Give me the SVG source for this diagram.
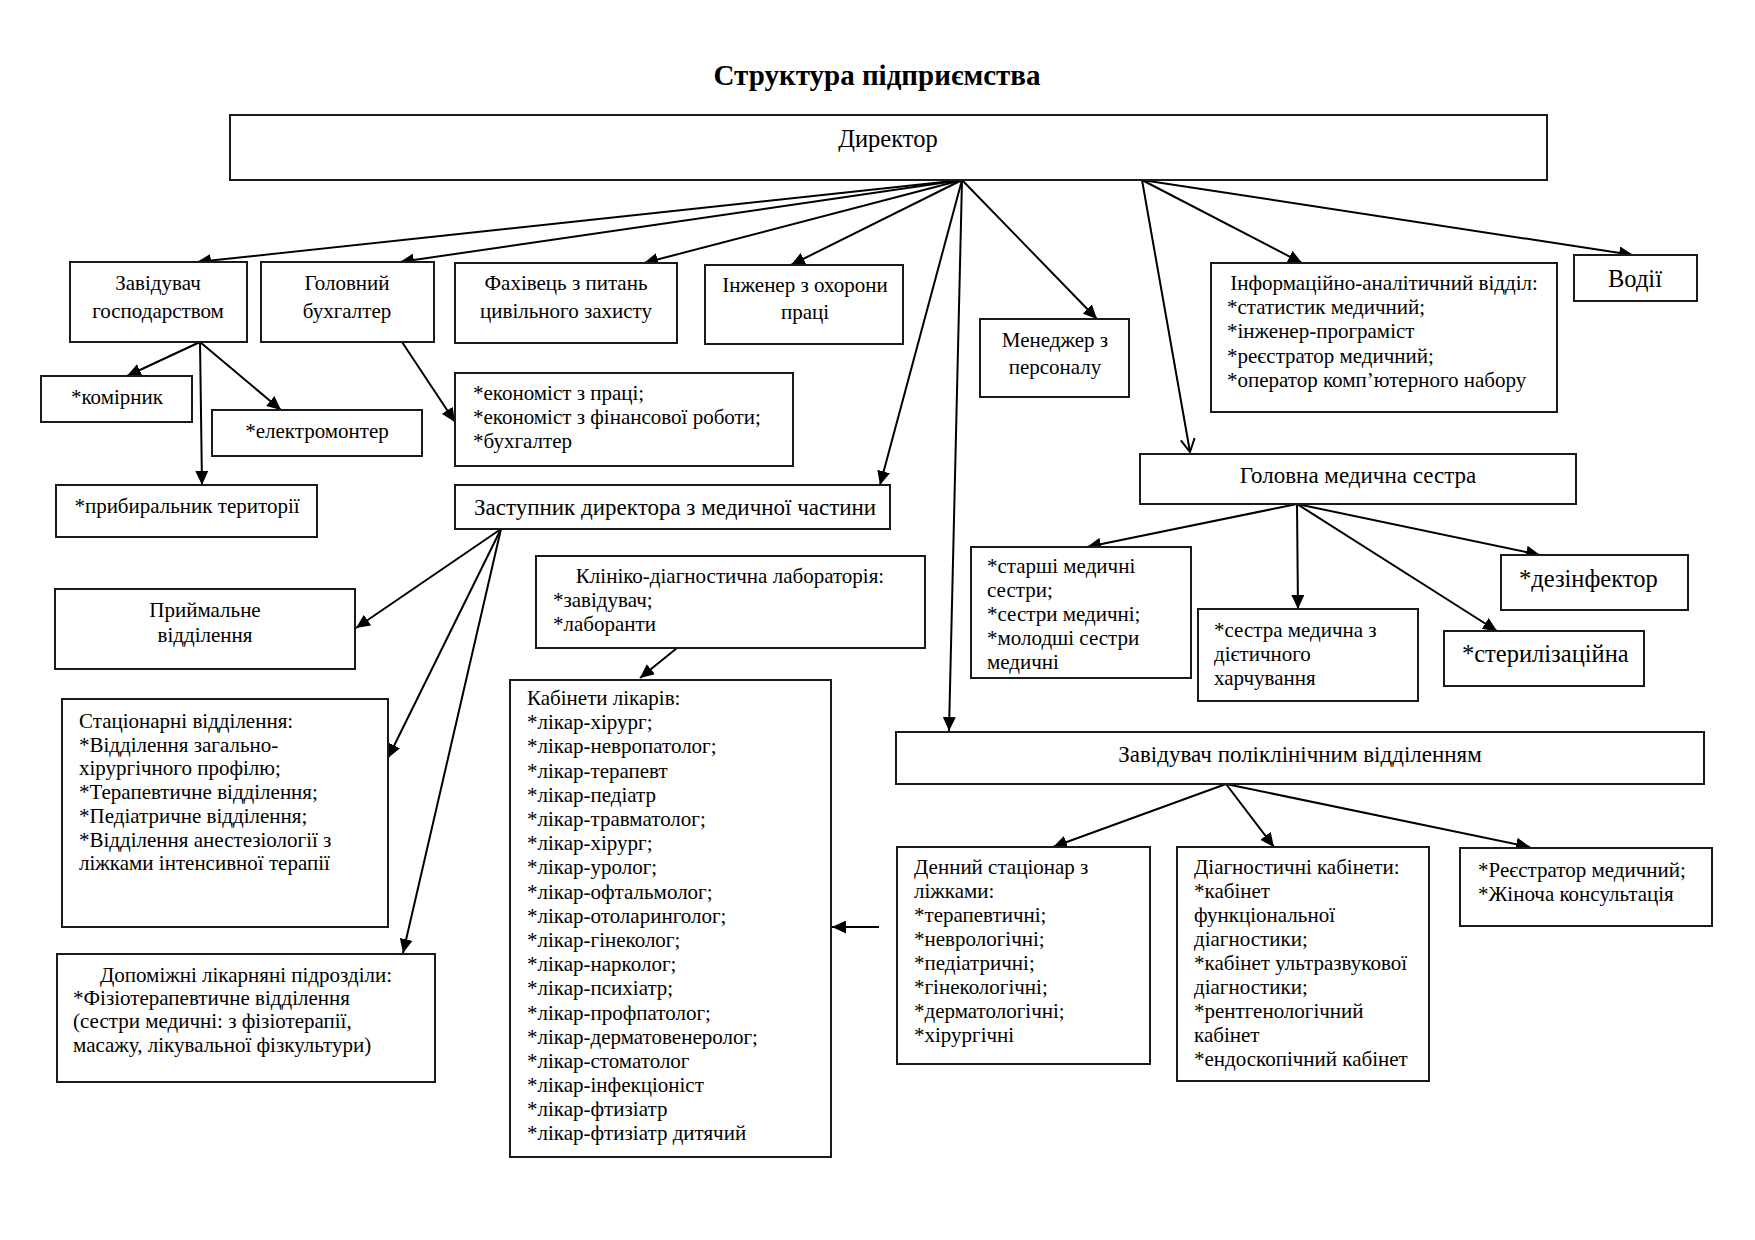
<svg xmlns="http://www.w3.org/2000/svg" width="1755" height="1240" viewBox="0 0 1755 1240">
<style>
  .box { fill: #ffffff; stroke: #1a1a1a; stroke-width: 2; }
  .t { font-family: "Liberation Serif", "Times New Roman", serif; font-size: 21px; fill: #000; }
  .c { text-anchor: middle; }
  .m { font-size: 23px; }
  .big { font-size: 24.5px; }
  .title { font-family: "Liberation Serif", "Times New Roman", serif; font-size: 29px; font-weight: bold; text-anchor: middle; fill: #000; }
  .ln { stroke: #000; stroke-width: 2; fill: none; marker-end: url(#ah); }
  .lo { stroke: #000; stroke-width: 2; fill: none; marker-end: url(#ao); }
</style>
<defs>
  <marker id="ah" markerUnits="userSpaceOnUse" markerWidth="15" markerHeight="13" refX="14" refY="6.5" orient="auto">
    <path d="M0,0 L14,6.5 L0,13 z" fill="#000"/>
  </marker>
  <marker id="ao" markerUnits="userSpaceOnUse" markerWidth="16" markerHeight="18" refX="14" refY="8" orient="auto">
    <path d="M1,1 L14,8 L1,15" fill="none" stroke="#000" stroke-width="2"/>
  </marker>
</defs>
<rect width="1755" height="1240" fill="#ffffff"/>
<text class="title" x="877" y="85">Структура підприємства</text>

<g id="connectors">
  <line class="ln" x1="962" y1="180" x2="197" y2="262"/>
  <line class="ln" x1="962" y1="180" x2="400" y2="262"/>
  <line class="ln" x1="962" y1="180" x2="644" y2="263"/>
  <line class="ln" x1="962" y1="180" x2="791" y2="265"/>
  <line class="ln" x1="962" y1="180" x2="1097" y2="319"/>
  <line class="ln" x1="962" y1="180" x2="880" y2="485"/>
  <line class="ln" x1="962" y1="180" x2="949" y2="731"/>
  <line class="ln" x1="1142" y1="180" x2="1302" y2="263"/>
  <line class="ln" x1="1142" y1="180" x2="1633" y2="255"/>
  <line class="lo" x1="1142" y1="180" x2="1190" y2="452"/>
  <line class="ln" x1="200" y1="342" x2="127" y2="376"/>
  <line class="ln" x1="200" y1="342" x2="202" y2="485"/>
  <line class="ln" x1="200" y1="342" x2="281" y2="410"/>
  <line class="ln" x1="402" y1="342" x2="455" y2="422"/>
  <line class="ln" x1="501" y1="529" x2="356" y2="628"/>
  <line class="ln" x1="501" y1="529" x2="388" y2="758"/>
  <line class="ln" x1="501" y1="529" x2="403" y2="953"/>
  <line class="ln" x1="677" y1="648" x2="640" y2="678"/>
  <line class="ln" x1="879" y1="927" x2="832" y2="927"/>
  <line class="ln" x1="1297" y1="504" x2="1087" y2="547"/>
  <line class="ln" x1="1297" y1="504" x2="1298" y2="609"/>
  <line class="ln" x1="1297" y1="504" x2="1497" y2="631"/>
  <line class="ln" x1="1297" y1="504" x2="1540" y2="555"/>
  <line class="ln" x1="1226" y1="784" x2="1053" y2="847"/>
  <line class="ln" x1="1226" y1="784" x2="1274" y2="847"/>
  <line class="ln" x1="1226" y1="784" x2="1530" y2="847"/>
</g>

<g id="director">
  <rect class="box" x="230" y="115" width="1317" height="65"/>
  <text class="t c big" x="888" y="147">Директор</text>
</g>
<g id="zav_gosp">
  <rect class="box" x="70" y="262" width="177" height="80"/>
  <text class="t c" x="158" y="290">Завідувач</text>
  <text class="t c" x="158" y="318">господарством</text>
</g>
<g id="gol_buh">
  <rect class="box" x="261" y="262" width="173" height="80"/>
  <text class="t c" x="347" y="290">Головний</text>
  <text class="t c" x="347" y="318">бухгалтер</text>
</g>
<g id="fakhivets">
  <rect class="box" x="455" y="263" width="222" height="80"/>
  <text class="t c" x="566" y="290">Фахівець з питань</text>
  <text class="t c" x="566" y="318">цивільного захисту</text>
</g>
<g id="inzhener">
  <rect class="box" x="705" y="265" width="198" height="79"/>
  <text class="t c" x="805" y="292">Інженер з охорони</text>
  <text class="t c" x="805" y="319">праці</text>
</g>
<g id="menedzher">
  <rect class="box" x="980" y="319" width="149" height="78"/>
  <text class="t c" x="1055" y="347">Менеджер з</text>
  <text class="t c" x="1055" y="374">персоналу</text>
</g>
<g id="info">
  <rect class="box" x="1211" y="263" width="346" height="149"/>
  <text class="t c" x="1384" y="290">Інформаційно-аналітичний відділ:</text>
  <text class="t" x="1227" y="314">*статистик медичний;</text>
  <text class="t" x="1227" y="338">*інженер-програміст</text>
  <text class="t" x="1227" y="363">*реєстратор медичний;</text>
  <text class="t" x="1227" y="387">*оператор комп’ютерного набору</text>
</g>
<g id="vodii">
  <rect class="box" x="1574" y="255" width="123" height="46"/>
  <text class="t c big" x="1635" y="287">Водії</text>
</g>
<g id="komirnyk">
  <rect class="box" x="41" y="376" width="151" height="46"/>
  <text class="t c" x="117" y="404">*комірник</text>
</g>
<g id="elektromonter">
  <rect class="box" x="212" y="410" width="210" height="46"/>
  <text class="t c" x="317" y="438">*електромонтер</text>
</g>
<g id="prybyralnyk">
  <rect class="box" x="56" y="485" width="261" height="52"/>
  <text class="t c" x="187" y="513">*прибиральник території</text>
</g>
<g id="ekonomist">
  <rect class="box" x="455" y="373" width="338" height="93"/>
  <text class="t" x="473" y="400">*економіст з праці;</text>
  <text class="t" x="473" y="424">*економіст з фінансової роботи;</text>
  <text class="t" x="473" y="448">*бухгалтер</text>
</g>
<g id="zastupnyk">
  <rect class="box" x="455" y="485" width="435" height="44"/>
  <text class="t m" x="474" y="515">Заступник директора з медичної частини</text>
</g>
<g id="golovna_sestra">
  <rect class="box" x="1140" y="454" width="436" height="50"/>
  <text class="t c m" x="1358" y="483">Головна медична сестра</text>
</g>
<g id="laboratoriya">
  <rect class="box" x="536" y="556" width="389" height="92"/>
  <text class="t c" x="730" y="583">Клініко-діагностична лабораторія:</text>
  <text class="t" x="553" y="607">*завідувач;</text>
  <text class="t" x="553" y="631">*лаборанти</text>
</g>
<g id="pryimalne">
  <rect class="box" x="55" y="589" width="300" height="80"/>
  <text class="t c" x="205" y="617">Приймальне</text>
  <text class="t c" x="205" y="642">відділення</text>
</g>
<g id="statsionarni">
  <rect class="box" x="62" y="699" width="326" height="228"/>
  <text class="t" x="79" y="728">Стаціонарні відділення:</text>
  <text class="t" x="79" y="752">*Відділення загально-</text>
  <text class="t" x="79" y="775">хірургічного профілю;</text>
  <text class="t" x="79" y="799">*Терапевтичне відділення;</text>
  <text class="t" x="79" y="823">*Педіатричне відділення;</text>
  <text class="t" x="79" y="847">*Відділення анестезіології з</text>
  <text class="t" x="79" y="870">ліжками інтенсивної терапії</text>
</g>
<g id="dopomizhni">
  <rect class="box" x="57" y="954" width="378" height="128"/>
  <text class="t c" x="246" y="982">Допоміжні лікарняні підрозділи:</text>
  <text class="t" x="73" y="1005">*Фізіотерапевтичне відділення</text>
  <text class="t" x="73" y="1028">(сестри медичні: з фізіотерапії,</text>
  <text class="t" x="73" y="1052">масажу, лікувальної фізкультури)</text>
</g>
<g id="kabinety">
  <rect class="box" x="510" y="680" width="321" height="477"/>
  <text class="t" x="527" y="705">Кабінети лікарів:</text>
  <text class="t" x="527" y="729">*лікар-хірург;</text>
  <text class="t" x="527" y="753">*лікар-невропатолог;</text>
  <text class="t" x="527" y="778">*лікар-терапевт</text>
  <text class="t" x="527" y="802">*лікар-педіатр</text>
  <text class="t" x="527" y="826">*лікар-травматолог;</text>
  <text class="t" x="527" y="850">*лікар-хірург;</text>
  <text class="t" x="527" y="874">*лікар-уролог;</text>
  <text class="t" x="527" y="899">*лікар-офтальмолог;</text>
  <text class="t" x="527" y="923">*лікар-отоларинголог;</text>
  <text class="t" x="527" y="947">*лікар-гінеколог;</text>
  <text class="t" x="527" y="971">*лікар-нарколог;</text>
  <text class="t" x="527" y="995">*лікар-психіатр;</text>
  <text class="t" x="527" y="1020">*лікар-профпатолог;</text>
  <text class="t" x="527" y="1044">*лікар-дерматовенеролог;</text>
  <text class="t" x="527" y="1068">*лікар-стоматолог</text>
  <text class="t" x="527" y="1092">*лікар-інфекціоніст</text>
  <text class="t" x="527" y="1116">*лікар-фтизіатр</text>
  <text class="t" x="527" y="1140">*лікар-фтизіатр дитячий</text>
</g>
<g id="starshi">
  <rect class="box" x="971" y="547" width="220" height="131"/>
  <text class="t" x="987" y="573">*старші медичні</text>
  <text class="t" x="987" y="597">сестри;</text>
  <text class="t" x="987" y="621">*сестри медичні;</text>
  <text class="t" x="987" y="645">*молодші сестри</text>
  <text class="t" x="987" y="669">медичні</text>
</g>
<g id="sestra_diet">
  <rect class="box" x="1198" y="609" width="220" height="92"/>
  <text class="t" x="1214" y="637">*сестра медична з</text>
  <text class="t" x="1214" y="661">дієтичного</text>
  <text class="t" x="1214" y="685">харчування</text>
</g>
<g id="dezinfektor">
  <rect class="box" x="1501" y="555" width="187" height="55"/>
  <text class="t big" x="1519" y="587">*дезінфектор</text>
</g>
<g id="sterylizatsiina">
  <rect class="box" x="1444" y="631" width="200" height="55"/>
  <text class="t big" x="1462" y="662">*стерилізаційна</text>
</g>
<g id="poliklinichnyi">
  <rect class="box" x="896" y="732" width="808" height="52"/>
  <text class="t c m" x="1300" y="762">Завідувач поліклінічним відділенням</text>
</g>
<g id="dennyi">
  <rect class="box" x="897" y="847" width="253" height="217"/>
  <text class="t" x="914" y="874">Денний стаціонар з</text>
  <text class="t" x="914" y="898">ліжками:</text>
  <text class="t" x="914" y="922">*терапевтичні;</text>
  <text class="t" x="914" y="946">*неврологічні;</text>
  <text class="t" x="914" y="970">*педіатричні;</text>
  <text class="t" x="914" y="994">*гінекологічні;</text>
  <text class="t" x="914" y="1018">*дерматологічні;</text>
  <text class="t" x="914" y="1042">*хірургічні</text>
</g>
<g id="diagnostychni">
  <rect class="box" x="1177" y="847" width="252" height="234"/>
  <text class="t" x="1194" y="874">Діагностичні кабінети:</text>
  <text class="t" x="1194" y="898">*кабінет</text>
  <text class="t" x="1194" y="922">функціональної</text>
  <text class="t" x="1194" y="946">діагностики;</text>
  <text class="t" x="1194" y="970">*кабінет ультразвукової</text>
  <text class="t" x="1194" y="994">діагностики;</text>
  <text class="t" x="1194" y="1018">*рентгенологічний</text>
  <text class="t" x="1194" y="1042">кабінет</text>
  <text class="t" x="1194" y="1066">*ендоскопічний кабінет</text>
</g>
<g id="reiestrator">
  <rect class="box" x="1460" y="848" width="252" height="78"/>
  <text class="t" x="1478" y="877">*Реєстратор медичний;</text>
  <text class="t" x="1478" y="901">*Жіноча консультація</text>
</g>
</svg>
